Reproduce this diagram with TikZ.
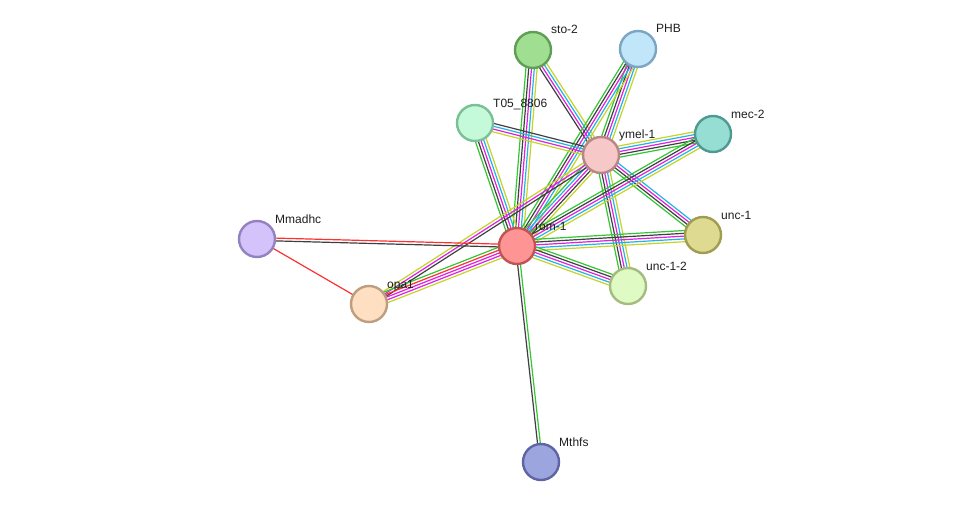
\documentclass[tikz,border=0pt]{standalone}
\usepackage{fontspec}
\setmainfont{Liberation Sans}
\usetikzlibrary{calc,backgrounds}
\definecolor{eg}{HTML}{33C633}
\definecolor{ek}{HTML}{404040}
\definecolor{em}{HTML}{E020E0}
\definecolor{ec}{HTML}{22B4E4}
\definecolor{ey}{HTML}{C4D42A}
\definecolor{er}{HTML}{FF3030}
\newcommand\medge[4]{%
  \foreach \col [count=\i] in {#4}{%
    \pgfmathsetmacro\off{(\i-(#3+1)/2)*2.8}%
    \draw[draw=\col,line width=1.2pt] ($(#1)!\off pt!90:(#2)$) -- ($(#2)!\off pt!-90:(#1)$);
  }}
\tikzset{
  prot/.style 2 args={circle,minimum size=36pt,inner sep=0pt,line width=2.4pt,fill=#1,draw=#2},
  lbl/.style={anchor=base west,font=\fontsize{12}{14}\selectfont,text=black!88,inner sep=0pt}
}
\newcommand\prot[6]{%
  \node[prot={#4}{#5}] (#1) at (#2,#3) {};
  \node[lbl] (#1-l) at (#2+18,#3-16) {#6};}
\begin{document}
\begin{tikzpicture}[x=1pt,y=-1pt]
\useasboundingbox (0,0) rectangle (976,508);
\definecolor{f1}{HTML}{A0DE92}\definecolor{b1}{HTML}{5E9E55}
\definecolor{f2}{HTML}{C2E6F9}\definecolor{b2}{HTML}{7BA5C2}
\definecolor{f3}{HTML}{C4FAD9}\definecolor{b3}{HTML}{7ABF96}
\definecolor{f4}{HTML}{F6C8C8}\definecolor{b4}{HTML}{B88686}
\definecolor{f5}{HTML}{96DED4}\definecolor{b5}{HTML}{4E9A90}
\definecolor{f6}{HTML}{DEDA92}\definecolor{b6}{HTML}{A09C50}
\definecolor{f7}{HTML}{FE9494}\definecolor{b7}{HTML}{C05454}
\definecolor{f8}{HTML}{E0FAC4}\definecolor{b8}{HTML}{A4BC80}
\definecolor{f9}{HTML}{D3C3FA}\definecolor{b9}{HTML}{9482C0}
\definecolor{f10}{HTML}{FEDFC2}\definecolor{b10}{HTML}{BE9E7E}
\definecolor{f11}{HTML}{9DA5DF}\definecolor{b11}{HTML}{5E64A4}
\prot{sto2}{533}{50}{f1}{b1}{sto-2}
\prot{PHB}{638}{49}{f2}{b2}{PHB}
\prot{T05}{475}{123}{f3}{b3}{T05\_8806}
\prot{ymel}{601}{155}{f4}{b4}{ymel-1}
\prot{mec2}{713}{134}{f5}{b5}{mec-2}
\prot{unc1}{703}{235}{f6}{b6}{unc-1}
\prot{rom}{517}{246}{f7}{b7}{rom-1}
\prot{unc12}{628}{286}{f8}{b8}{unc-1-2}
\prot{Mmadhc}{257}{239}{f9}{b9}{Mmadhc}
\prot{opa1}{369}{304}{f10}{b10}{opa1}
\prot{Mthfs}{541}{462}{f11}{b11}{Mthfs}
\begin{scope}[on background layer]
\fill[white] (0,0) rectangle (976,508);
\medge{sto2}{rom}{5}{eg,ek,em,ec,ey}
\medge{sto2}{ymel}{4}{ek,em,ec,ey}
\medge{PHB}{ymel}{5}{eg,ek,em,ec,ey}
\medge{PHB}{rom}{5}{eg,ek,em,ec,ey}
\medge{T05}{ymel}{4}{ey,em,ec,ek}
\medge{T05}{rom}{5}{eg,ek,em,ec,ey}
\medge{ymel}{mec2}{5}{eg,ek,em,ec,ey}
\medge{ymel}{rom}{5}{eg,ec,em,ek,ey}
\medge{ymel}{unc1}{4}{eg,ek,em,ec}
\medge{ymel}{unc12}{5}{eg,ek,em,ec,ey}
\medge{ymel}{opa1}{3}{ey,em,ek}
\medge{mec2}{rom}{5}{eg,ek,em,ec,ey}
\medge{unc1}{rom}{5}{eg,ek,em,ec,ey}
\medge{unc12}{rom}{5}{eg,ek,em,ec,ey}
\medge{rom}{opa1}{5}{eg,er,em,em,ey}
\medge{rom}{Mmadhc}{2}{er,ek}
\medge{Mmadhc}{opa1}{1}{er}
\medge{rom}{Mthfs}{2}{ek,eg}
\end{scope}
\end{tikzpicture}
\end{document}
